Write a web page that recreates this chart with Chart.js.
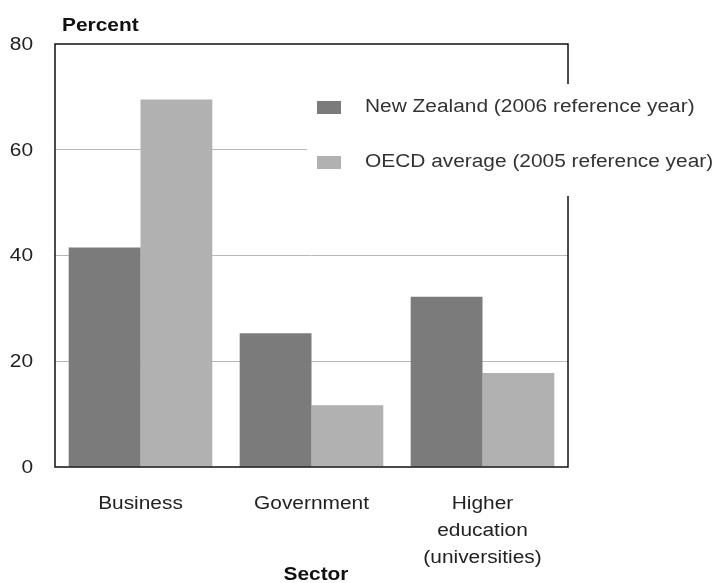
<!DOCTYPE html>
<html>
<head>
<meta charset="utf-8">
<script src="https://cdn.jsdelivr.net/npm/chart.js@4"></script>
<style>
  html, body { margin: 0; padding: 0; background: #fff; }
  #wrap { width: 720px; height: 583px; }
</style>
</head>
<body>
<div id="wrap"><canvas id="chart" width="720" height="583"></canvas></div>
<script>
const sectors = ['Business', 'Government', ['Higher', 'education', '(universities)']]
const newZealand = [41.5, 25.3, 32.2]
const oecdAverage = [69.5, 11.7, 17.8]
const yTicks = [0, 20, 40, 60, 80]

const FONT = '"Liberation Sans", Arial, sans-serif'
const STRETCH = 1.16 // the source's lettering is wide, so text gets stretched sideways

function wideText (ctx, text, x, y, align) {
  ctx.save()
  ctx.translate(x, y)
  ctx.scale(STRETCH, 1)
  ctx.textAlign = align
  ctx.textBaseline = 'middle'
  ctx.fillText(text, 0, 0)
  ctx.restore()
}

// tick labels, titles, frame and the boxed legend
const decorations = {
  id: 'decorations',
  afterDraw (chart) {
    const ctx = chart.ctx
    const a = chart.chartArea
    const xs = chart.scales.x
    const ys = chart.scales.y
    ctx.save()
    ctx.strokeStyle = '#111'
    ctx.lineWidth = 1.5
    ctx.strokeRect(a.left, a.top, a.right - a.left, a.bottom - a.top)

    ctx.fillStyle = '#222'
    ctx.font = '18px ' + FONT
    yTicks.forEach(v => wideText(ctx, String(v), a.left - 22, ys.getPixelForValue(v) + 1, 'right'))
    chart.data.labels.forEach((lab, i) => {
      const lines = Array.isArray(lab) ? lab : [lab]
      const x = xs.getPixelForTick(i)
      lines.forEach((ln, j) => wideText(ctx, ln, x, a.bottom + 37 + j * 27, 'center'))
    })

    ctx.fillStyle = '#111'
    ctx.font = 'bold 18px ' + FONT
    wideText(ctx, 'Percent', 62, 26, 'left')
    wideText(ctx, 'Sector', 316, 575, 'center')

    // legend
    ctx.fillStyle = '#fff'
    ctx.fillRect(307, 84, 413, 112)
    ctx.font = '18px ' + FONT
    chart.data.datasets.forEach((ds, i) => {
      const y = 107 + i * 55
      ctx.fillStyle = ds.backgroundColor
      ctx.fillRect(317, y - 6, 24, 13)
      ctx.fillStyle = '#333'
      wideText(ctx, ds.label, 365, y, 'left')
    })
    ctx.restore()
  }
}

new Chart(document.getElementById('chart').getContext('2d'), {
  type: 'bar',
  data: {
    labels: sectors,
    datasets: [
      { label: 'New Zealand (2006 reference year)', data: newZealand, backgroundColor: '#7b7b7b' },
      { label: 'OECD average (2005 reference year)', data: oecdAverage, backgroundColor: '#b1b1b1' }
    ]
  },
  options: {
    responsive: false,
    animation: false,
    layout: { padding: { top: 44, right: 152, left: 0, bottom: 0 } },
    datasets: { bar: { categoryPercentage: 0.84, barPercentage: 1 } },
    plugins: { legend: { display: false }, tooltip: { enabled: false } },
    scales: {
      x: {
        grid: { display: false },
        border: { display: false },
        ticks: { display: false },
        afterFit (scale) { scale.height = 116 }
      },
      y: {
        min: 0,
        max: 80,
        afterBuildTicks (scale) { scale.ticks = yTicks.map(v => ({ value: v })) },
        grid: {
          color: ctx => (ctx.tick && (ctx.tick.value === 0 || ctx.tick.value === 80)) ? 'rgba(0,0,0,0)' : '#b8b8b8',
          lineWidth: 1,
          drawTicks: false
        },
        border: { display: false },
        ticks: { display: false },
        afterFit (scale) { scale.width = 55 }
      }
    }
  },
  plugins: [decorations]
})
</script>
</body>
</html>
